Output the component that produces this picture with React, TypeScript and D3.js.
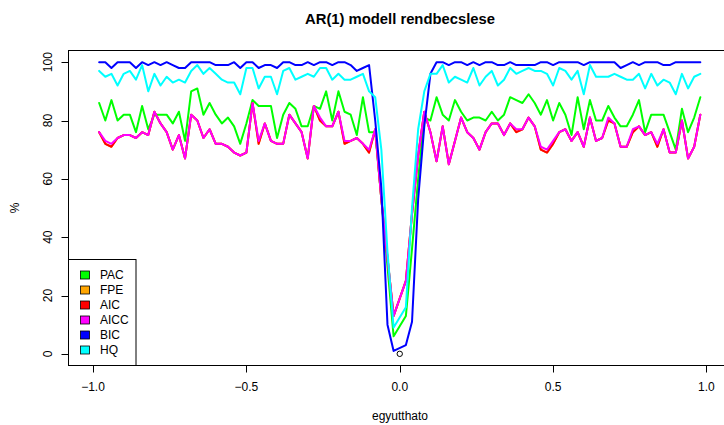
import React from "react";
import * as d3 from "d3";

// coefficient grid (0 itself is not in the grid)
const coef = [
  -0.98, -0.96, -0.94, -0.92, -0.9, -0.88, -0.86, -0.84, -0.82, -0.8,
  -0.78, -0.76, -0.74, -0.72, -0.7, -0.68, -0.66, -0.64, -0.62, -0.6,
  -0.58, -0.56, -0.54, -0.52, -0.5, -0.48, -0.46, -0.44, -0.42, -0.4,
  -0.38, -0.36, -0.34, -0.32, -0.3, -0.28, -0.26, -0.24, -0.22, -0.2,
  -0.18, -0.16, -0.14, -0.12, -0.1, -0.08, -0.06, -0.04, -0.02,
  0.02, 0.04, 0.06, 0.08, 0.1, 0.12, 0.14, 0.16, 0.18, 0.2,
  0.22, 0.24, 0.26, 0.28, 0.3, 0.32, 0.34, 0.36, 0.38, 0.4,
  0.42, 0.44, 0.46, 0.48, 0.5, 0.52, 0.54, 0.56, 0.58, 0.6,
  0.62, 0.64, 0.66, 0.68, 0.7, 0.72, 0.74, 0.76, 0.78, 0.8,
  0.82, 0.84, 0.86, 0.88, 0.9, 0.92, 0.94, 0.96, 0.98,
];

const PAC = [
  86, 80, 87, 80, 82, 82, 76, 85, 77, 82, 82, 82, 79, 83, 73, 90, 91, 82, 86, 82,
  79, 81, 78, 72, 79, 87, 85, 85, 85, 74, 82, 86, 84, 78, 78, 85, 84, 90, 80, 90,
  83, 82, 75, 88, 76, 76, 53, 30, 6,
  13, 36, 60, 81, 80, 88, 82, 80, 87, 83, 80, 81, 81, 80, 83, 80, 82, 88, 87, 86,
  89, 86, 82, 87, 80, 86, 82, 75, 88, 77, 87, 80, 80, 85, 81, 78, 78, 82, 87, 76,
  82, 82, 82, 76, 70, 84, 76, 81, 88,
];

const FPE = [
  76, 72, 71, 74, 75, 75, 74, 76, 75, 83, 79, 76, 70, 75, 67, 82, 80, 74, 77, 72,
  72, 71, 69, 68, 69, 86, 72, 79, 73, 72, 72, 82, 79, 76, 67, 85, 80, 78, 78, 83,
  72, 73, 74, 72, 69, 77, 53, 33, 13,
  25, 48, 68, 83, 76, 66, 78, 65, 73, 81, 76, 74, 70, 76, 79, 79, 75, 79, 76, 77,
  81, 78, 70, 69, 72, 76, 77, 73, 76, 71, 81, 73, 74, 80, 79, 71, 71, 76, 78, 75,
  76, 71, 77, 69, 69, 80, 67, 71, 82,
];

const AIC = [
  76, 72, 71, 74, 75, 75, 74, 76, 75, 83, 79, 76, 70, 75, 67, 82, 80, 74, 77, 72,
  72, 71, 69, 68, 69, 86, 72, 79, 73, 72, 72, 82, 79, 76, 67, 85, 80, 78, 78, 83,
  72, 73, 74, 72, 69, 77, 53, 33, 13,
  25, 48, 68, 83, 76, 66, 78, 65, 73, 81, 76, 74, 70, 76, 79, 79, 75, 79, 76, 77,
  81, 78, 70, 69, 72, 76, 77, 73, 76, 71, 81, 73, 74, 80, 79, 71, 71, 76, 78, 75,
  76, 71, 77, 69, 69, 80, 67, 71, 82,
];

const AICC = [
  76, 73, 72, 74, 75, 75, 74, 76, 75, 83, 79, 76, 70, 75, 67, 82, 80, 74, 77, 72,
  72, 71, 69, 68, 69, 86, 73, 79, 73, 72, 72, 82, 79, 76, 67, 85, 81, 78, 78, 83,
  73, 73, 74, 72, 70, 77, 53, 33, 13,
  25, 48, 68, 83, 76, 66, 78, 65, 73, 81, 76, 74, 70, 76, 79, 79, 75, 79, 77, 77,
  81, 78, 71, 70, 73, 76, 77, 73, 76, 71, 81, 73, 74, 81, 79, 71, 71, 77, 78, 75,
  76, 72, 77, 69, 69, 80, 67, 71, 82,
];

const BIC = [
  100, 100, 98, 100, 100, 100, 98, 100, 99, 100, 99, 100, 99, 98, 98, 100, 100, 100, 100, 99,
  99, 99, 100, 98, 100, 100, 98, 99, 99, 98, 100, 100, 99, 99, 100, 99, 100, 100, 99, 100,
  100, 99, 97, 98, 99, 80, 57, 10, 1,
  3, 11, 53, 78, 96, 100, 100, 99, 100, 100, 99, 100, 99, 100, 100, 99, 99, 100, 99, 99,
  99, 99, 100, 100, 99, 100, 100, 100, 100, 99, 100, 100, 100, 100, 100, 98, 99, 100, 99, 100,
  100, 100, 99, 99, 100, 100, 100, 100, 100,
];

const HQ = [
  97, 95, 96, 92, 96, 97, 94, 99, 90, 96, 92, 95, 93, 94, 93, 97, 99, 96, 98, 96,
  94, 93, 93, 89, 98, 98, 91, 95, 95, 89, 97, 98, 94, 95, 96, 95, 98, 98, 94, 96,
  94, 94, 95, 96, 90, 88, 70, 35, 9,
  16, 50, 77, 90, 96, 96, 99, 93, 95, 94, 93, 98, 92, 95, 97, 92, 94, 98, 96, 97,
  98, 97, 97, 96, 92, 98, 97, 94, 97, 89, 99, 95, 95, 95, 96, 95, 94, 94, 96, 91,
  96, 92, 94, 93, 89, 96, 91, 95, 96,
];

const seriesNames = ["PAC", "FPE", "AIC", "AICC", "BIC", "HQ"];
const seriesValues = [PAC, FPE, AIC, AICC, BIC, HQ];
const seriesColors = ["#00FF00", "#FFA500", "#FF0000", "#FF00FF", "#0000FF", "#00FFFF"];

const xTicks = [-1.0, -0.5, 0.0, 0.5, 1.0];
const yTicks = [0, 20, 40, 60, 80, 100];
const markerPoint = [0, 0];

const title = "AR(1) modell rendbecslese";
const xLabel = "egyutthato";
const yLabel = "%";

const W = 724;
const H = 425;
const left = 68.5;
const right = 731;
const top = 50.5;
const bottom = 365.5;
const FONT = "'Liberation Sans', Arial, Helvetica, sans-serif";

export default function App() {
  const x = d3.scaleLinear().domain([-1.08, 1.08]).range([left, right]);
  const y = d3.scaleLinear().domain([-4, 104]).range([bottom, top]);
  const line = d3
    .line<[number, number]>()
    .x((d) => x(d[0]))
    .y((d) => y(d[1]));

  const fmt = (v: number) => (v < 0 ? "\u2212" + Math.abs(v).toFixed(1) : v.toFixed(1));

  const legX = left;
  const legY = 259.5;
  const legW = 67.5;
  const legH = bottom - legY;

  return (
    <svg
      width={W}
      height={H}
      style={{ position: "absolute", left: 0, top: 0, background: "#fff" }}
      fontFamily={FONT}
    >
      <rect x={0} y={0} width={W} height={H} fill="#fff" />
      {/* data lines */}
      {seriesValues.map((vals, si) => (
        <path
          key={seriesNames[si]}
          d={line(coef.map((c, i) => [c, vals[i]] as [number, number])) || ""}
          fill="none"
          stroke={seriesColors[si]}
          strokeWidth={2}
          strokeLinejoin="round"
          strokeLinecap="round"
        />
      ))}
      <circle
        cx={x(markerPoint[0])}
        cy={y(markerPoint[1])}
        r={2.7}
        fill="none"
        stroke="#000"
        strokeWidth={1}
      />
      {/* plot box */}
      <rect
        x={left}
        y={top}
        width={right - left}
        height={bottom - top}
        fill="none"
        stroke="#000"
        strokeWidth={1}
      />
      {/* x axis */}
      {xTicks.map((t) => (
        <g key={"x" + t}>
          <line
            x1={Math.round(x(t)) + 0.5}
            x2={Math.round(x(t)) + 0.5}
            y1={bottom}
            y2={bottom + 7}
            stroke="#000"
          />
          <text x={x(t)} y={391} fontSize={12} textAnchor="middle" fill="#000">
            {fmt(t)}
          </text>
        </g>
      ))}
      {/* y axis */}
      {yTicks.map((t) => (
        <g key={"y" + t}>
          <line
            x1={left - 7}
            x2={left}
            y1={Math.round(y(t)) + 0.5}
            y2={Math.round(y(t)) + 0.5}
            stroke="#000"
          />
          <text
            transform={`translate(51.5, ${y(t)}) rotate(-90)`}
            fontSize={12}
            textAnchor="middle"
            fill="#000"
          >
            {t}
          </text>
        </g>
      ))}
      {/* titles */}
      <text x={400} y={24} fontSize={14.8} fontWeight="bold" textAnchor="middle" fill="#000">
        {title}
      </text>
      <text x={400} y={420} fontSize={12} textAnchor="middle" fill="#000">
        {xLabel}
      </text>
      <text
        transform={`translate(19, 208) rotate(-90)`}
        fontSize={12}
        textAnchor="middle"
        fill="#000"
      >
        {yLabel}
      </text>
      {/* legend */}
      <rect x={legX} y={legY} width={legW} height={legH} fill="#fff" stroke="#000" strokeWidth={1} />
      {seriesNames.map((n, i) => {
        const cy = 275 + i * 15;
        return (
          <g key={"leg" + n}>
            <rect
              x={80.5}
              y={cy - 4}
              width={9}
              height={8}
              fill={seriesColors[i]}
              stroke="#000"
              strokeWidth={0.8}
            />
            <text x={100} y={cy + 4.3} fontSize={12} fill="#000">
              {n}
            </text>
          </g>
        );
      })}
    </svg>
  );
}
